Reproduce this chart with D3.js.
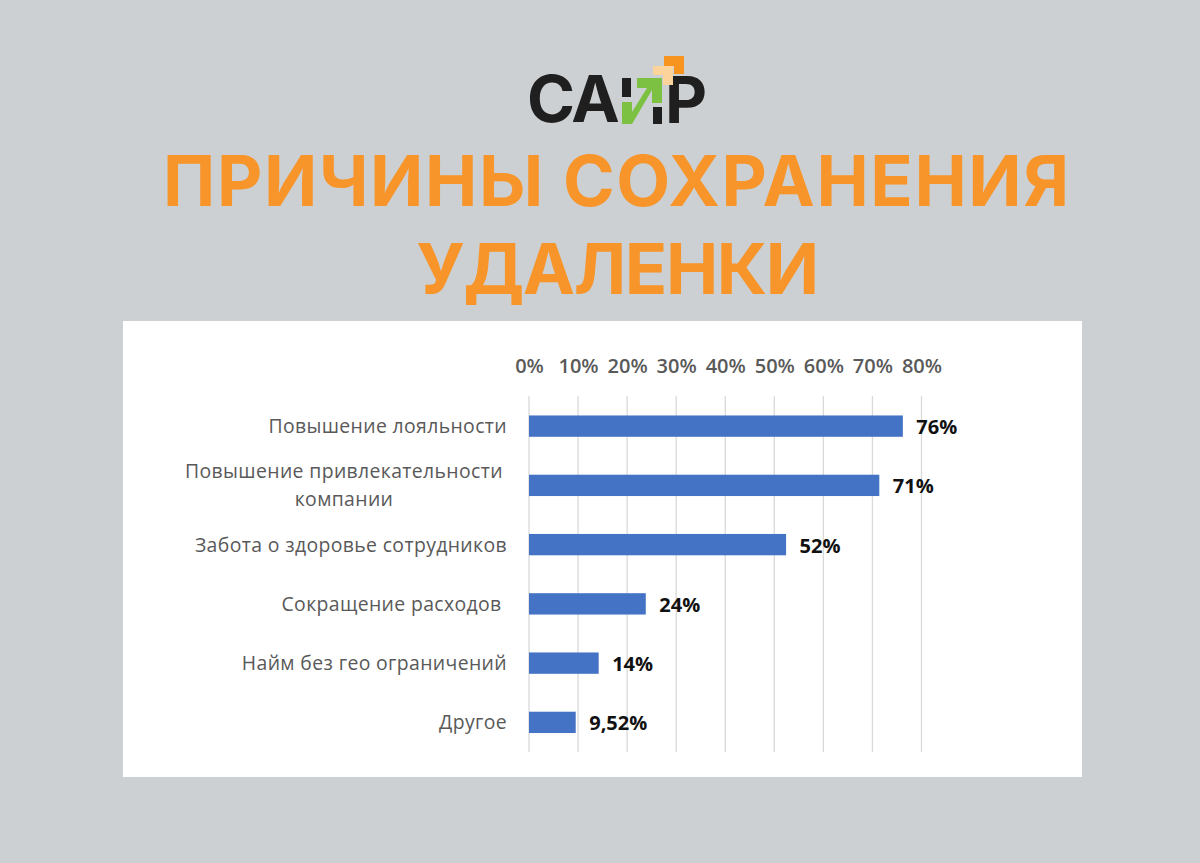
<!DOCTYPE html>
<html>
<head>
<meta charset="utf-8">
<script src="https://cdn.jsdelivr.net/npm/d3@7"></script>
<style>
html, body { margin: 0; padding: 0; background: #ccd0d3; }
svg { display: block; }
</style>
</head>
<body>
<svg width="1200" height="863"></svg>
<script>
const categories = ["Повышение лояльности", "Повышение привлекательности|компании", "Забота о здоровье сотрудников", "Сокращение расходов ", "Найм без гео ограничений", "Другое"];
const values = [76.2, 71.4, 52.4, 23.8, 14.2, 9.52];
const valueLabels = ["76%", "71%", "52%", "24%", "14%", "9,52%"];
const ticks = [0, 10, 20, 30, 40, 50, 60, 70, 80];
const titleLines = ["ПРИЧИНЫ СОХРАНЕНИЯ", "УДАЛЕНКИ"];

const svg = d3.select("svg");
const font = "'Open Sans', sans-serif";

// Logo
const logo = svg.append("g");
logo.append("text").attr("x", 527).attr("y", 122).text("СА")
  .attr("font-family", "Inter, sans-serif").attr("font-weight", 700).attr("font-size", 65)
  .attr("letter-spacing", -2).attr("fill", "#1f1f1f");
logo.append("path").attr("d", "M664 56H684V74H674V66H664z").attr("fill", "#f7941f");
logo.append("text").attr("x", 665).attr("y", 123).text("Р")
  .attr("font-family", "Inter, sans-serif").attr("font-weight", 700).attr("font-size", 65)
  .attr("fill", "#1f1f1f");
logo.append("rect").attr("x", 622).attr("y", 78).attr("width", 9).attr("height", 19).attr("fill", "#1f1f1f");
logo.append("rect").attr("x", 653).attr("y", 107).attr("width", 9).attr("height", 17).attr("fill", "#1f1f1f");
logo.append("path").attr("d", "M637 78H662V103H652V90L632 124H622V102H632V112L647 88H637z").attr("fill", "#7cc142");
logo.append("path").attr("d", "M653 66H673V85H663V75H653z").attr("fill", "#fbd39b");

// Title
const title = svg.append("g").selectAll("text")
  .data(titleLines)
  .join("text")
  .attr("x", 617)
  .attr("y", (d, i) => 206 + i * 88)
  .attr("text-anchor", "middle")
  .attr("font-family", "Inter, sans-serif")
  .attr("font-weight", 700)
  .attr("font-size", 70)
  .attr("letter-spacing", (d, i) => i === 0 ? 1.6 : -1.4)
  .attr("fill", "#f7952b")
  .text(d => d);

// Chart panel
svg.append("rect").attr("x", 123).attr("y", 321).attr("width", 959).attr("height", 456).attr("fill", "#fff");

const x = d3.scaleLinear().domain([0, 80]).range([529, 921.5]);
const y = d3.scaleBand().domain(categories).range([396.5, 752]).paddingInner(0.64).paddingOuter(0.32);

const axis = svg.append("g")
  .attr("transform", "translate(0,371)")
  .call(d3.axisTop(x).tickValues(ticks).tickFormat(d => d + "%").tickSize(0).tickPadding(0));
axis.select(".domain").remove();
axis.selectAll("text")
  .attr("font-family", font)
  .attr("font-weight", 600)
  .attr("font-size", 20)
  .attr("dy", 2)
  .attr("fill", "#595959");

// Gridlines
svg.append("g").selectAll("line")
  .data(ticks)
  .join("line")
  .attr("x1", d => x(d))
  .attr("x2", d => x(d))
  .attr("y1", 396)
  .attr("y2", 752)
  .attr("stroke", "#d9d9d9")
  .attr("stroke-width", 1.3);

// Bars
svg.append("g").selectAll("rect")
  .data(categories)
  .join("rect")
  .attr("x", x(0))
  .attr("y", d => y(d))
  .attr("width", (d, i) => x(values[i]) - x(0))
  .attr("height", y.bandwidth())
  .attr("fill", "#4472c4");

// Value labels
svg.append("g").selectAll("text")
  .data(categories)
  .join("text")
  .attr("x", (d, i) => x(values[i]) + 13.5)
  .attr("y", d => y(d) + y.bandwidth() / 2 + 8)
  .attr("font-family", font)
  .attr("font-weight", 700)
  .attr("font-size", 20)
  .attr("fill", "#111")
  .text((d, i) => valueLabels[i]);

// Category labels
const catLabels = svg.append("g").selectAll("text")
  .data(categories)
  .join("text")
  .attr("y", d => y(d) + y.bandwidth() / 2 + 7)
  .attr("font-family", font)
  .attr("font-size", 19.4)
  .attr("letter-spacing", 0.37)
  .style("white-space", "pre")
  .attr("fill", "#595959");

catLabels.each(function(d) {
  const parts = d.split("|");
  const el = d3.select(this);
  if (parts.length === 1) {
    el.attr("x", 507).attr("text-anchor", "end").text(d);
  } else {
    el.attr("text-anchor", "middle");
    parts.forEach((p, i) => {
      el.append("tspan")
        .attr("x", 344)
        .attr("dy", i === 0 ? -14 : 28)
        .text(p);
    });
  }
});
</script>
</body>
</html>
